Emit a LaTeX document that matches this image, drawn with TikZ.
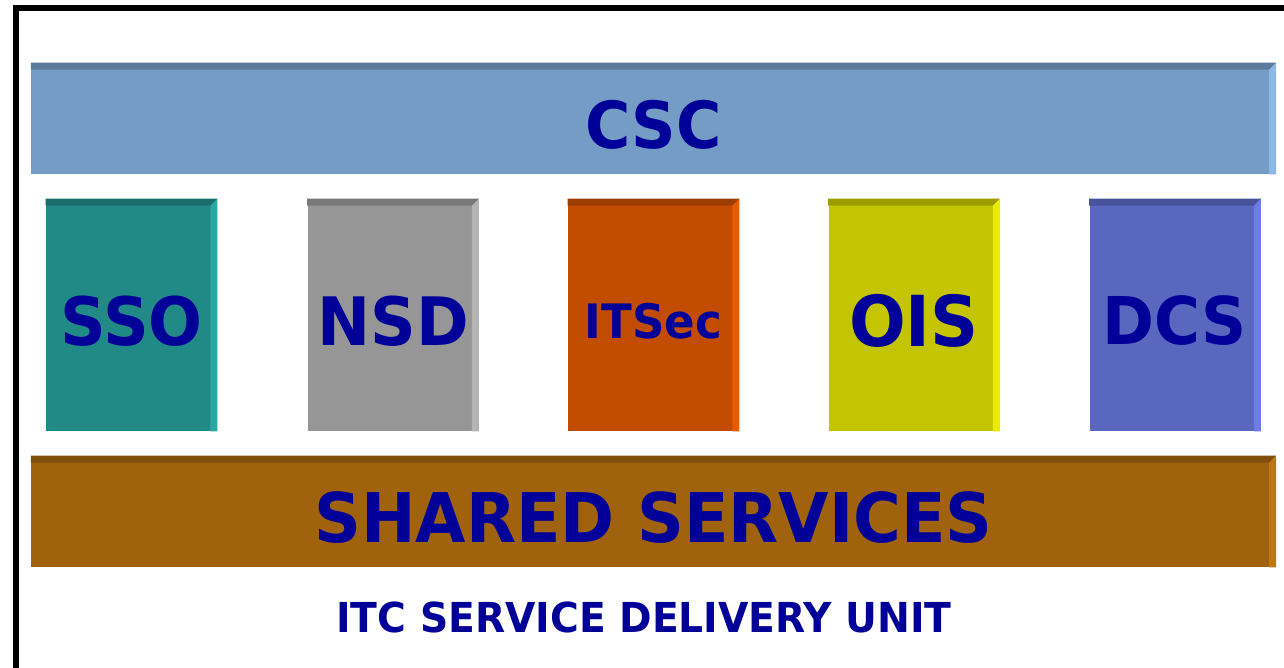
\documentclass[tikz,border=0pt]{standalone}
\usepackage{fontspec}
\setmainfont{DejaVu Sans}[FakeStretch=0.95]
\usepackage{tikz}

\definecolor{unitblue}{HTML}{000099}
\definecolor{cscfill}{HTML}{749CC4}
\definecolor{csctop}{HTML}{5B7A9C}
\definecolor{cscside}{HTML}{8CB8E6}
\definecolor{ssofill}{HTML}{218A86}
\definecolor{ssotop}{HTML}{1B6E6B}
\definecolor{ssoside}{HTML}{28A8A2}
\definecolor{nsdfill}{HTML}{969696}
\definecolor{nsdtop}{HTML}{787878}
\definecolor{nsdside}{HTML}{B4B4B4}
\definecolor{secfill}{HTML}{C24D00}
\definecolor{sectop}{HTML}{9B3E00}
\definecolor{secside}{HTML}{E85C00}
\definecolor{oisfill}{HTML}{C4C400}
\definecolor{oistop}{HTML}{9D9D00}
\definecolor{oisside}{HTML}{EBEB00}
\definecolor{dcsfill}{HTML}{5A67BF}
\definecolor{dcstop}{HTML}{48529A}
\definecolor{dcsside}{HTML}{6C7BE5}
\definecolor{shrfill}{HTML}{A0620D}
\definecolor{shrtop}{HTML}{80500A}
\definecolor{shrside}{HTML}{C07710}

\newcommand{\bevel}[3]{%
  \fill[#2] (#1.north west) -- (#1.north east) -- ([shift={(-7,7)}]#1.north east) -- ([shift={(0,7)}]#1.north west) -- cycle;
  \fill[#3] (#1.north east) -- (#1.south east) -- ([shift={(-7,0)}]#1.south east) -- ([shift={(-7,7)}]#1.north east) -- cycle;}

\begin{document}
\begin{tikzpicture}[x=0.02cm, y=-0.02cm,
    slab/.style={fill=#1, inner sep=0pt},
    word/.style={text=unitblue, inner sep=0pt, font=\bfseries\fontsize{#1}{#1}\selectfont}]
    \useasboundingbox (0,0) rectangle (1284,668);
    \clip (0,0) rectangle (1284,668);
    \draw[line width=0.12cm] (16,700) -- (16,8) -- (1300,8);

    \node[slab=cscfill, minimum width=24.9cm, minimum height=2.22cm,
        label={[word=37pt, yshift=-3.4pt]center:CSC}] (csc) at (653.5,118.5) {};
    \bevel{csc}{csctop}{cscside}

    \foreach \name/\x/\txt/\sz in {sso/131.5/SSO/38pt, nsd/393/NSD/38pt, sec/653.5/ITSec/27pt, ois/914/OIS/40pt, dcs/1175/DCS/37.5pt}{
        \node[slab=\name fill, minimum width=3.42cm, minimum height=4.64cm,
            label={[word=\sz, yshift=-3.4pt]center:\txt}] (\name) at (\x,315) {};
        \bevel{\name}{\name top}{\name side}
    }

    \node[slab=shrfill, minimum width=24.9cm, minimum height=2.22cm,
        label={[word=39pt, yshift=-3.4pt]center:SHARED SERVICES}] (shr) at (653.5,511.5) {};
    \bevel{shr}{shrtop}{shrside}

    \node[word=23.5pt] (unit) at (644,617) {ITC SERVICE DELIVERY UNIT};
\end{tikzpicture}
\end{document}
